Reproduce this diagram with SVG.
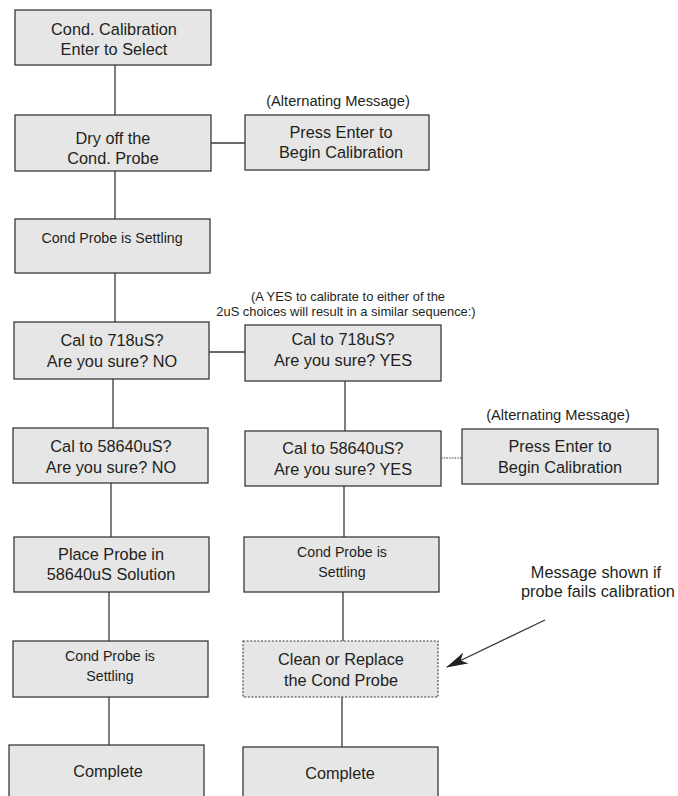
<svg xmlns="http://www.w3.org/2000/svg" width="678" height="796" viewBox="0 0 678 796">
  <style>
    .box { fill: #e6e6e6; stroke: #3a3a3a; stroke-width: 1.3; }
    .dotbox { fill: #e6e6e6; stroke: #3a3a3a; stroke-width: 1.1; stroke-dasharray: 2 1.6; }
    .t { font-family: "Liberation Sans", Arial, Helvetica, sans-serif; font-size: 16.3px; fill: #231f20; text-anchor: middle; }
    .s { font-family: "Liberation Sans", Arial, Helvetica, sans-serif; font-size: 14.2px; fill: #231f20; text-anchor: middle; }
    .a { font-family: "Liberation Sans", Arial, Helvetica, sans-serif; font-size: 14.7px; fill: #231f20; text-anchor: middle; }
    .n { font-family: "Liberation Sans", Arial, Helvetica, sans-serif; font-size: 12.9px; fill: #231f20; text-anchor: middle; }
    .c { fill: none; stroke: #3a3a3a; stroke-width: 1.3; }
    .dot { fill: none; stroke: #3a3a3a; stroke-width: 1.2; stroke-dasharray: 1.5 1.2; }
  </style>
  <defs>
    <marker id="head" viewBox="0 0 22 12" refX="21" refY="6" markerWidth="22" markerHeight="12" markerUnits="userSpaceOnUse" orient="auto">
      <path d="M0,0 L22,6 L0,12 L6,6 z" fill="#231f20"/>
    </marker>
  </defs>
  <rect width="678" height="796" fill="#ffffff"/>

  <!-- connectors -->
  <g id="connectors">
    <line class="c" x1="115" y1="65" x2="115" y2="115"/>
    <line class="c" x1="211" y1="143" x2="245" y2="143"/>
    <line class="c" x1="115" y1="171" x2="115" y2="219"/>
    <line class="c" x1="115" y1="273" x2="115" y2="322"/>
    <line class="c" x1="209" y1="352" x2="245" y2="352"/>
    <line class="c" x1="113" y1="379" x2="113" y2="428"/>
    <line class="c" x1="111" y1="483" x2="111" y2="537"/>
    <line class="c" x1="109" y1="592" x2="109" y2="641"/>
    <line class="c" x1="109" y1="697" x2="109" y2="745"/>
    <line class="c" x1="345" y1="381" x2="345" y2="431"/>
    <line class="dot" x1="441" y1="458" x2="462" y2="458"/>
    <line class="c" x1="344" y1="486" x2="344" y2="537"/>
    <line class="c" x1="343" y1="592" x2="343" y2="641"/>
    <line class="c" x1="342" y1="697" x2="342" y2="747"/>
    <line class="c" x1="545" y1="620" x2="447" y2="667" marker-end="url(#head)"/>
  </g>

  <g id="cond-calibration">
    <rect class="box" x="15" y="10" width="196" height="55"/>
    <text class="t" x="114" y="35">Cond. Calibration</text>
    <text class="t" x="114" y="55">Enter to Select</text>
  </g>

  <g id="dry-off">
    <rect class="box" x="15" y="115" width="196" height="56"/>
    <text class="t" x="113" y="144">Dry off the</text>
    <text class="t" x="113" y="164">Cond. Probe</text>
  </g>

  <g id="alt-message-1">
    <text class="a" x="338" y="106">(Alternating Message)</text>
    <rect class="box" x="245" y="115" width="184" height="55"/>
    <text class="t" x="341" y="138">Press Enter to</text>
    <text class="t" x="341" y="158">Begin Calibration</text>
  </g>

  <g id="settling-1">
    <rect class="box" x="15" y="219" width="195" height="54"/>
    <text class="s" x="112" y="243">Cond Probe is Settling</text>
  </g>

  <g id="yes-note">
    <text class="n" x="348" y="301">(A YES to calibrate to either of the</text>
    <text class="n" x="346" y="316">2uS choices will result in a similar sequence:)</text>
  </g>

  <g id="cal718-no">
    <rect class="box" x="14" y="322" width="195" height="57"/>
    <text class="t" x="112" y="346">Cal to 718uS?</text>
    <text class="t" x="112" y="367">Are you sure? NO</text>
  </g>

  <g id="cal718-yes">
    <rect class="box" x="245" y="325" width="196" height="56"/>
    <text class="t" x="343" y="345">Cal to 718uS?</text>
    <text class="t" x="343" y="366">Are you sure? YES</text>
  </g>

  <g id="cal58640-no">
    <rect class="box" x="13" y="428" width="195" height="55"/>
    <text class="t" x="111" y="452">Cal to 58640uS?</text>
    <text class="t" x="111" y="473">Are you sure? NO</text>
  </g>

  <g id="cal58640-yes">
    <rect class="box" x="245" y="431" width="196" height="55"/>
    <text class="t" x="343" y="454">Cal to 58640uS?</text>
    <text class="t" x="343" y="475">Are you sure? YES</text>
  </g>

  <g id="alt-message-2">
    <text class="a" x="558" y="420">(Alternating Message)</text>
    <rect class="box" x="462" y="429" width="196" height="55"/>
    <text class="t" x="560" y="452">Press Enter to</text>
    <text class="t" x="560" y="473">Begin Calibration</text>
  </g>

  <g id="place-probe">
    <rect class="box" x="14" y="537" width="195" height="55"/>
    <text class="t" x="111" y="560">Place Probe in</text>
    <text class="t" x="111" y="580">58640uS Solution</text>
  </g>

  <g id="settling-right">
    <rect class="box" x="244" y="537" width="195" height="55"/>
    <text class="s" x="342" y="557">Cond Probe is</text>
    <text class="s" x="342" y="577">Settling</text>
  </g>

  <g id="fail-note">
    <text class="t" x="596" y="578">Message shown if</text>
    <text class="t" x="598" y="597">probe fails calibration</text>
  </g>

  <g id="settling-left">
    <rect class="box" x="13" y="641" width="195" height="56"/>
    <text class="s" x="110" y="661">Cond Probe is</text>
    <text class="s" x="110" y="681">Settling</text>
  </g>

  <g id="clean-replace">
    <rect class="dotbox" x="243" y="641" width="195" height="56"/>
    <text class="t" x="341" y="665">Clean or Replace</text>
    <text class="t" x="341" y="686">the Cond Probe</text>
  </g>

  <g id="complete-left">
    <rect class="box" x="9" y="745" width="195" height="60"/>
    <text class="t" x="108" y="777">Complete</text>
  </g>

  <g id="complete-right">
    <rect class="box" x="243" y="747" width="195" height="60"/>
    <text class="t" x="340" y="779">Complete</text>
  </g>
</svg>
